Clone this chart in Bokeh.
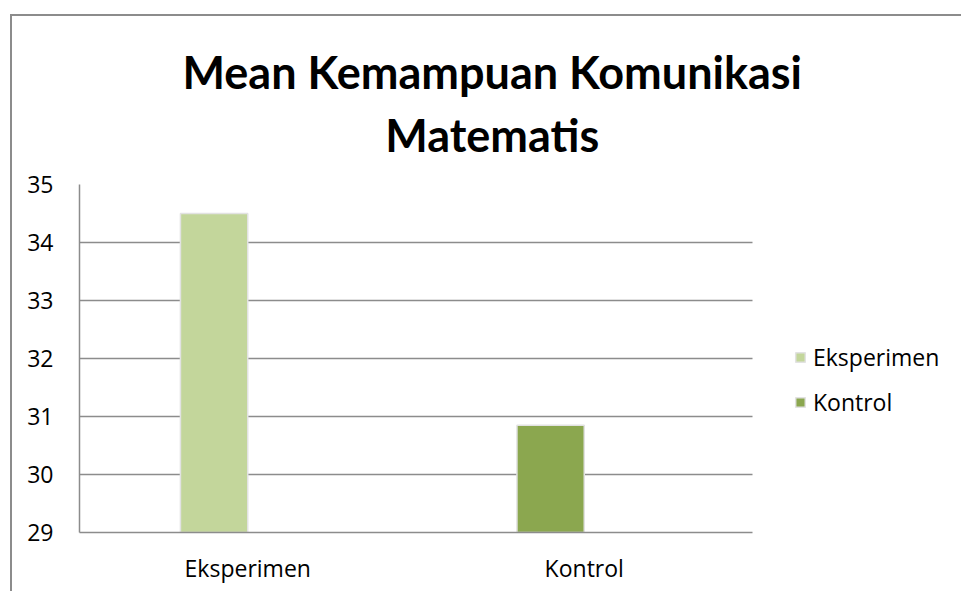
from bokeh.plotting import figure
from bokeh.models import (Range1d, Legend, LegendItem, ColumnDataSource, Title,
                          FixedTicker, Grid)
from bokeh.embed import file_html
from bokeh.resources import INLINE

# ---- data ----
categories = ["Eksperimen", "Kontrol"]
series_names = ["Eksperimen", "Kontrol"]
eksperimen_values = [34.5, float("nan")]
kontrol_values = [float("nan"), 30.85]
y_ticks = [29, 30, 31, 32, 33, 34, 35]
title_text = "Mean Kemampuan Komunikasi\nMatematis"

colors = ["#c3d69b", "#8ba74f"]
FONT = "Open Sans"
TFONT = "Lato"

# layout (pixels)
W, H = 951, 577
B_LEFT, B_RIGHT, B_TOP, B_BOTTOM = 67, 5, 168, 61
PLOT_W = 673                      # width of the category area
frame_w = W - B_LEFT - B_RIGHT
n = len(categories)
x_end = n * frame_w / PLOT_W      # extra room on the right for the legend

p = figure(width=W, height=H, x_range=Range1d(0, x_end),
           y_range=Range1d(y_ticks[0], y_ticks[-1]), output_backend="svg",
           toolbar_location=None, title_location=None,
           min_border_left=B_LEFT, min_border_right=B_RIGHT,
           min_border_top=B_TOP, min_border_bottom=B_BOTTOM)
p.margin = (14, 0, 0, 10)
p.styles = {"border-left": "2px solid #8c8c8c", "border-top": "2px solid #8c8c8c"}
p.outline_line_color = None
p.background_fill_color = "white"
p.border_fill_color = "white"

p.add_layout(Title(text=title_text, align="left", offset=103, text_font=TFONT,
                   text_font_style="bold", text_font_size="45px", text_align="center",
                   text_line_height=1.18, text_color="black", standoff=44), "above")

centers = [i + 0.5 for i in range(n)]
bar_x = [c - 0.1 for c in centers]
src = ColumnDataSource(dict(x=bar_x, eks=eksperimen_values, kon=kontrol_values))
r1 = p.vbar(x="x", top="eks", bottom=y_ticks[0], width=0.2, source=src,
            fill_color=colors[0], line_color="#e2e2e2", line_width=1.5)
r2 = p.vbar(x="x", top="kon", bottom=y_ticks[0], width=0.2, source=src,
            fill_color=colors[1], line_color="#e2e2e2", line_width=1.5)

p.xgrid.grid_line_color = None
p.ygrid.grid_line_color = None
ygrid = Grid(dimension=1, ticker=FixedTicker(ticks=y_ticks),
             grid_line_color="#8c8c8c", grid_line_width=1.5)
if "cross_bounds" in Grid.properties():
    ygrid.cross_bounds = (0, n)
    p.add_layout(ygrid)
else:
    p.segment(x0=[0] * len(y_ticks), x1=[n] * len(y_ticks), y0=y_ticks, y1=y_ticks,
              line_color="#8c8c8c", line_width=1.5, level="underlay")

p.yaxis.ticker = y_ticks
p.xaxis.ticker = FixedTicker(ticks=centers)
p.xaxis.major_label_overrides = {c: lab for c, lab in zip(centers, categories)}
p.xaxis.bounds = (0, n)
for ax in (p.xaxis[0], p.yaxis[0]):
    ax.axis_line_color = "#8c8c8c"
    ax.axis_line_width = 1.5
    ax.major_tick_line_color = None
    ax.minor_tick_line_color = None
    ax.major_label_text_font = FONT
    ax.major_label_text_font_size = "23px"
    ax.major_label_text_color = "black"
p.yaxis.major_label_standoff = 20
p.xaxis.major_label_standoff = 13

legend = Legend(items=[LegendItem(label=series_names[0], renderers=[r1]),
                       LegendItem(label=series_names[1], renderers=[r2])],
                location=(715, 114), orientation="vertical",
                glyph_width=12, glyph_height=12, label_standoff=7,
                label_text_font=FONT, label_text_font_size="23px",
                label_text_color="black",
                label_height=20, spacing=13, padding=0, margin=0,
                border_line_color=None, background_fill_alpha=0)
p.add_layout(legend, "center")

open("out.html", "w").write(file_html(p, INLINE))
